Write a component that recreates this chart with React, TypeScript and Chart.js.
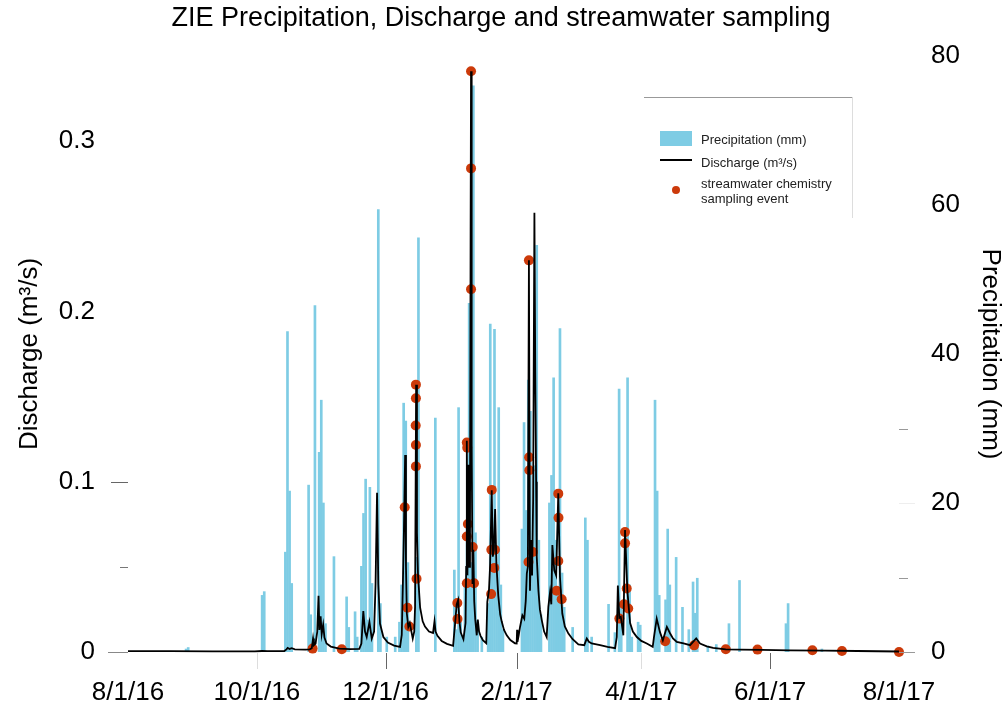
import React, { useEffect, useRef } from 'react';
import { Chart, registerables } from 'chart.js';

Chart.register(...registerables);

// ---- data (days since 8/1/16) ----
const titleText = 'ZIE Precipitation, Discharge and streamwater sampling';
const tickDays = [0, 61, 122, 184, 243, 304, 365];
const tickLabels = ['8/1/16', '10/1/16', '12/1/16', '2/1/17', '4/1/17', '6/1/17', '8/1/17'];
const dischargeTicks = [0, 0.1, 0.2, 0.3];
const precipTicks = [0, 20, 40, 60, 80];

const precipDays = [
  27, 28, 63, 64, 74, 75, 76, 77, 85, 86, 87, 88, 90, 91, 92, 93, 97, 103, 104, 107, 108,
  110, 111, 112, 113, 114, 115, 118, 119, 122, 126, 128, 129, 130, 131, 132, 136, 137, 145,
  154, 155, 156, 157, 158, 159, 160, 161, 162, 163, 164, 165, 167, 170, 171, 172, 173, 174,
  175, 176, 177, 186, 187, 188, 189, 190, 191, 192, 193, 194, 195, 199, 200, 201, 202, 203,
  204, 205, 206, 210, 216, 217, 219, 227, 230, 232, 233, 236, 237, 238, 241, 242, 249, 250,
  251, 254, 255, 256, 259, 262, 265, 267, 268, 269, 274, 278, 284, 289, 311, 312, 328,
];
const precipMm = [
  0.4, 0.6, 7.6, 8.1, 13.4, 43, 21.6, 9.2, 22.4, 5, 2, 46.5, 26.8, 33.8, 20, 3.8, 12.8, 7.4, 3.3, 5.4, 2,
  11.5, 18.6, 23.2, 4.3, 22.1, 9.2, 59.4, 6.5, 2, 2, 4, 9, 33.4, 31, 12, 12.7, 55.6, 31.4,
  11, 3, 32.8, 4, 2, 9, 16.6, 46.8, 12, 76, 16, 4, 2, 6.5, 44, 14, 43.3, 12,
  32.8, 9, 3, 16.5, 30.8, 19, 36.5, 32.3, 15, 25, 54.6, 15, 5, 20, 23.7, 36.8, 15, 8,
  43.4, 10.6, 6, 3.3, 18, 15, 2, 6.4, 2.6, 35.3, 6, 36.8, 9, 2, 4, 3.6, 33.8, 21.6,
  7.6, 7, 16.5, 9, 12.7, 6, 3, 9.4, 5.2, 9.9, 0.8, 1, 3.8, 9.6, 3.8, 6.5, 0.4,
];

const dischargeDays = [
  0, 20, 40, 60, 63.5, 66, 74, 75, 75.6, 76.5, 77.5, 79, 84, 86, 87, 87.6, 88, 88.8, 89.6, 90.2,
  90.6, 91.2, 91.7, 92.4, 93, 94, 96, 100, 105, 109.5, 110.5, 111.4, 112.2, 113, 114.3, 115.4,
  116.5, 117.2, 117.9, 118.5, 119.3, 120.9, 123, 126, 128.8, 129.6, 130.1, 130.6, 131.2, 131.6,
  132, 132.7, 133.4, 134.8, 135.5, 135.9, 136.4, 136.8, 137.3, 138.3, 139.5, 140.6, 142.5, 144.4,
  145.1, 145.6, 146.5, 148.5, 151, 153.9, 154.8, 155.6, 156.3, 156.9, 157.5, 158.8, 159.8, 160.1,
  160.4, 160.7, 161.1, 161.5, 161.9, 162.2, 162.4, 162.6, 162.8, 163.1, 163.5, 163.9, 164.4, 165.1,
  165.6, 166.2, 166.9, 168, 169.6, 170.1, 170.9, 171.4, 172.2, 172.7, 173.2, 173.8, 174.4, 175.3,
  176.2, 176.9, 178, 179.3, 181, 183.2, 184, 184.2, 184.4, 185, 185.6, 186.7, 187.6, 188.3, 188.8,
  189.3, 189.8, 190.3, 190.8, 191.3, 191.8, 192.4, 192.8, 193.2, 193.5, 194.3, 195, 195.9, 197,
  198.2, 199, 199.8, 200.4, 200.9, 201.8, 202.7, 203.7, 204.5, 205.6, 206.8, 208.5, 210.5, 213.2,
  216, 217.2, 218.2, 219.5, 223.5, 227, 230.6, 231.4, 231.9, 232.6, 233.3, 234.5, 235.3, 236.4,
  237.7, 239, 240.9, 243, 245.6, 248.4, 249, 250.3, 251.8, 253.2, 255.1, 256.6, 258, 259.8, 263,
  266.1, 269, 270.8, 274, 277, 283, 289.8, 300, 313.4, 330, 345.2, 365,
];
const dischargeQ = [
  0.0005, 0.0005, 0.0004, 0.0004, 0.0006, 0.0005, 0.0006, 0.0015, 0.0024, 0.0018, 0.0022, 0.0016, 0.0014, 0.0016, 0.0022, 0.0079, 0.004, 0.005, 0.012, 0.033,
  0.013, 0.021, 0.0105, 0.016, 0.0085, 0.005, 0.0032, 0.002, 0.0017, 0.0018, 0.005, 0.024, 0.012, 0.0088, 0.0176, 0.0079,
  0.012, 0.04, 0.0935, 0.04, 0.0167, 0.0088, 0.0055, 0.0038, 0.003, 0.01, 0.038, 0.07, 0.1157, 0.05,
  0.0226, 0.0147, 0.017, 0.0079, 0.012, 0.0265, 0.157, 0.07, 0.045, 0.026, 0.018, 0.0149, 0.012, 0.0112,
  0.018, 0.012, 0.0095, 0.0065, 0.0048, 0.0036, 0.016, 0.028, 0.0306, 0.018, 0.0116, 0.0075, 0.017, 0.05,
  0.124, 0.045, 0.11, 0.05, 0.07, 0.25, 0.341, 0.26, 0.122, 0.04, 0.06, 0.03, 0.019, 0.0098,
  0.019, 0.012, 0.0095, 0.007, 0.0051, 0.0295, 0.0365, 0.05, 0.095, 0.056, 0.06, 0.084, 0.0516, 0.033,
  0.022, 0.018, 0.013, 0.0098, 0.007, 0.0051, 0.005, 0.013, 0.006, 0.01, 0.0147, 0.0216, 0.0196, 0.03, 0.046,
  0.05, 0.23, 0.036, 0.0657, 0.045, 0.09, 0.258, 0.165, 0.1, 0.056, 0.036, 0.025, 0.0186, 0.012,
  0.0088, 0.0265, 0.035, 0.028, 0.0628, 0.048, 0.045, 0.0932, 0.044, 0.0226, 0.015, 0.0108, 0.0075, 0.0045,
  0.004, 0.0079, 0.006, 0.005, 0.004, 0.003, 0.0022, 0.0088, 0.039, 0.02, 0.0206, 0.0098, 0.0716, 0.036,
  0.017, 0.012, 0.0088, 0.0065, 0.005, 0.003, 0.0088, 0.0196, 0.0118, 0.0069, 0.0147, 0.011, 0.008, 0.0059, 0.005,
  0.004, 0.008, 0.005, 0.0033, 0.0024, 0.0016, 0.0014, 0.0013, 0.001, 0.0008, 0.0006, 0.0003,
];

const sampleDays = [
  87.4, 101.2, 131.0, 132.3, 133.2, 136.3, 136.3, 136.2, 136.3, 136.3, 136.6, 155.9, 156.0,
  160.4, 160.6, 160.9, 160.4, 160.4, 162.4, 162.4, 162.4, 163.2, 163.8, 172.2, 172.0, 173.4,
  171.9, 173.7, 189.8, 189.9, 190.0, 191.6, 189.6, 203.7, 203.8, 203.7, 202.9, 205.3, 235.3,
  235.3, 236.1, 234.8, 236.8, 232.6, 254.3, 268.0, 283.0, 298.0, 324.0, 338.0, 365.0,
];
const sampleQ = [
  0.002, 0.0016, 0.085, 0.026, 0.015, 0.157, 0.149, 0.133, 0.1216, 0.109, 0.043, 0.0288, 0.0194,
  0.123, 0.12, 0.0752, 0.0678, 0.0404, 0.341, 0.284, 0.213, 0.0616, 0.0404, 0.0952, 0.06, 0.0494,
  0.034, 0.06, 0.23, 0.1144, 0.1067, 0.0587, 0.0528, 0.093, 0.0788, 0.0534, 0.036, 0.031, 0.0704,
  0.0638, 0.0373, 0.028, 0.0255, 0.0196, 0.0063, 0.0039, 0.0016, 0.0014, 0.001, 0.0006, 0.0,
];

// ---- styles ----
const FONT = '"Liberation Sans", Arial, Helvetica, sans-serif';
const BLUE = '#7ECCE4';
const RED = '#CC3A0A';

const overlayPlugin = {
  id: 'overlay',
  afterDraw(chart: any) {
    const { ctx, chartArea, scales } = chart;
    const L = chartArea.left;
    const R = chartArea.right;
    const B = chartArea.bottom;
    ctx.save();
    // title
    ctx.fillStyle = '#000';
    ctx.font = `27px ${FONT}`;
    ctx.textAlign = 'center';
    ctx.textBaseline = 'middle';
    ctx.fillText(titleText, 501, 19);

    const hline = (x1: number, x2: number, y: number, color: string) => {
      ctx.strokeStyle = color;
      ctx.lineWidth = 1;
      ctx.beginPath();
      ctx.moveTo(x1, Math.round(y) + 0.5);
      ctx.lineTo(x2, Math.round(y) + 0.5);
      ctx.stroke();
    };
    const vline = (x: number, y1: number, y2: number, color: string) => {
      ctx.strokeStyle = color;
      ctx.lineWidth = 1;
      ctx.beginPath();
      ctx.moveTo(Math.round(x) + 0.5, y1);
      ctx.lineTo(Math.round(x) + 0.5, y2);
      ctx.stroke();
    };
    // left axis tick marks
    const y = scales.y;
    hline(L - 20, L, y.getPixelForValue(0), '#888');
    hline(L - 8, L, y.getPixelForValue(0.05), '#777');
    hline(L - 17, L, y.getPixelForValue(0.1), '#666');
    // right axis tick marks
    const y2 = scales.y2;
    hline(R, R + 16, y2.getPixelForValue(0), '#999');
    hline(R, R + 9, y2.getPixelForValue(10), '#999');
    hline(R, R + 16, y2.getPixelForValue(20), '#eee');
    hline(R, R + 9, y2.getPixelForValue(30), '#999');
    // bottom tick marks
    const x = scales.x;
    const xt: Array<[number, string]> = [[61, '#ddd'], [122, '#666'], [184, '#666'], [243, '#ddd'], [304, '#666']];
    xt.forEach(([d, c]) => vline(x.getPixelForValue(d), B + 1, B + 17, c));

    // legend frame fragments
    hline(644, 852, 97, '#999');
    vline(852, 97, 218, '#ddd');
    // legend
    ctx.fillStyle = BLUE;
    ctx.fillRect(660, 131, 32, 15);
    ctx.strokeStyle = '#000';
    ctx.lineWidth = 2;
    ctx.beginPath();
    ctx.moveTo(660, 160);
    ctx.lineTo(692, 160);
    ctx.stroke();
    ctx.fillStyle = RED;
    ctx.beginPath();
    ctx.arc(676, 190, 4, 0, Math.PI * 2);
    ctx.fill();
    ctx.fillStyle = '#222';
    ctx.font = `13px ${FONT}`;
    ctx.textAlign = 'left';
    ctx.textBaseline = 'middle';
    ctx.fillText('Precipitation (mm)', 701, 140);
    ctx.fillText('Discharge (m\u00B3/s)', 701, 163);
    ctx.fillText('streamwater chemistry', 701, 184);
    ctx.fillText('sampling event', 701, 199);
    ctx.restore();
  },
};

export default function App() {
  const ref = useRef<HTMLCanvasElement | null>(null);

  useEffect(() => {
    if (!ref.current) return;
    Chart.defaults.font.family = FONT;
    Chart.defaults.color = '#000';

    const bars = precipDays.map((d, i) => ({ x: d + 0.5, y: precipMm[i] }));
    const line = dischargeDays.map((d, i) => ({ x: d, y: dischargeQ[i] }));
    const pts = sampleDays.map((d, i) => ({ x: d, y: sampleQ[i] }));

    const chart = new Chart(ref.current, {
      type: 'bar',
      data: {
        datasets: [
          {
            type: 'line',
            label: 'Discharge (m\u00B3/s)',
            data: line,
            yAxisID: 'y',
            borderColor: '#000',
            borderWidth: 1.8,
            pointRadius: 0,
            tension: 0,
            fill: false,
            clip: false,
            order: 0,
          } as any,
          {
            type: 'scatter',
            label: 'streamwater chemistry sampling event',
            data: pts,
            yAxisID: 'y',
            backgroundColor: RED,
            borderWidth: 0,
            pointRadius: 5,
            clip: false,
            order: 1,
          } as any,
          {
            type: 'bar',
            label: 'Precipitation (mm)',
            data: bars,
            yAxisID: 'y2',
            backgroundColor: BLUE,
            borderWidth: 0,
            barThickness: 2,
            order: 2,
          } as any,
        ],
      },
      options: {
        responsive: false,
        animation: false,
        devicePixelRatio: 1,
        layout: { padding: { top: 56, left: 0, right: 0, bottom: 0 } },
        plugins: {
          legend: { display: false },
          tooltip: { enabled: false },
          title: { display: false },
        },
        scales: {
          x: {
            type: 'linear',
            min: 0,
            max: 365,
            offset: false,
            grid: { display: false, drawTicks: false },
            border: { display: false },
            afterBuildTicks: (s: any) => {
              s.ticks = tickDays.map((v) => ({ value: v }));
            },
            afterFit: (s: any) => {
              s.height = 67;
            },
            ticks: {
              autoSkip: false,
              maxRotation: 0,
              padding: 25,
              font: { size: 26 },
              color: '#000',
              callback: (v: any) => {
                const i = tickDays.indexOf(Number(v));
                return i >= 0 ? tickLabels[i] : '';
              },
            },
          },
          y: {
            type: 'linear',
            position: 'left',
            min: 0,
            max: 0.35,
            grid: { display: false, drawTicks: false },
            border: { display: false },
            afterBuildTicks: (s: any) => {
              s.ticks = dischargeTicks.map((v) => ({ value: v }));
            },
            afterFit: (s: any) => {
              s.width = 128;
            },
            ticks: {
              padding: 33,
              font: { size: 26 },
              color: '#000',
              callback: (v: any) => String(Number(v)),
            },
            title: {
              display: true,
              text: 'Discharge (m\u00B3/s)',
              font: { size: 26 },
              color: '#000',
              padding: { top: 14, bottom: 0 },
            },
          },
          y2: {
            type: 'linear',
            position: 'right',
            min: 0,
            max: 80,
            grid: { display: false, drawTicks: false },
            border: { display: false },
            afterBuildTicks: (s: any) => {
              s.ticks = precipTicks.map((v) => ({ value: v }));
            },
            afterFit: (s: any) => {
              s.width = 109;
            },
            ticks: {
              padding: 32,
              font: { size: 26 },
              color: '#000',
              callback: (v: any) => String(Number(v)),
            },
            title: {
              display: true,
              text: 'Precipitation (mm)',
              font: { size: 26 },
              color: '#000',
              padding: { top: 2, bottom: 0 },
            },
          },
        },
      } as any,
      plugins: [overlayPlugin],
    });

    return () => chart.destroy();
  }, []);

  return (
    <div style={{ position: 'fixed', left: 0, top: 0, width: 1008, height: 719 }}>
      <canvas ref={ref} width={1008} height={719} style={{ width: 1008, height: 719, display: 'block' }} />
    </div>
  );
}
